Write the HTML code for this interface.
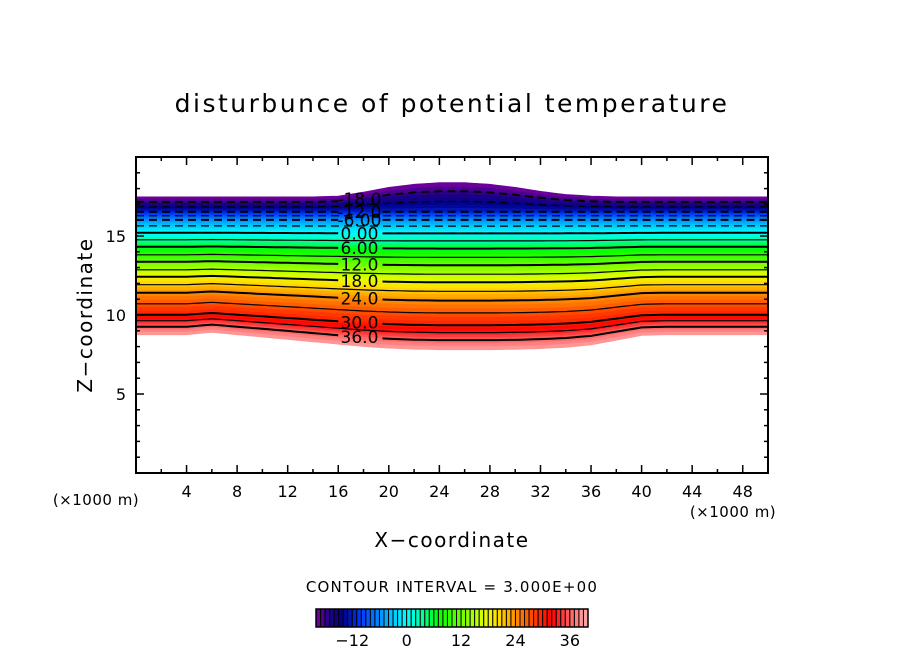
<!DOCTYPE html>
<html><head><meta charset="utf-8">
<style>
html,body{margin:0;padding:0;background:#fff;}
svg text{font-family:"DejaVu Sans","Liberation Sans",sans-serif;fill:#000;}
</style></head>
<body>
<svg id="chart" width="904" height="654" viewBox="0 0 904 654" xmlns="http://www.w3.org/2000/svg">
<g id="bands"></g>
<g id="lines"></g>
<g id="clabels"></g>
<rect x="136" y="157" width="632" height="316" fill="none" stroke="#000" stroke-width="2"/>
<g id="ticks"></g>
<text x="452" y="112" font-size="25" text-anchor="middle" letter-spacing="2.5">disturbunce of potential temperature</text>
<text x="452" y="547" font-size="20" text-anchor="middle" letter-spacing="1.5">X−coordinate</text>
<text transform="translate(92,315) rotate(-90)" font-size="20" text-anchor="middle" letter-spacing="1.5">Z−coordinate</text>
<text x="96" y="505" font-size="15" text-anchor="middle" letter-spacing="0.5">(×1000 m)</text>
<text x="733" y="517" font-size="15" text-anchor="middle" letter-spacing="0.5">(×1000 m)</text>
<text x="452" y="592" font-size="15" text-anchor="middle" letter-spacing="1.2">CONTOUR INTERVAL = 3.000E+00</text>
<g id="cbar"></g>
</svg>
<script>
const levels = [-20,-18,-15,-12,-9,-6,-3,0,3,6,9,12,15,18,21,24,27,30,33,36,39];
const baseZ  = [17.48,17.16,16.85,16.53,16.28,16.02,15.64,15.20,14.76,14.32,13.81,13.37,12.86,12.42,11.92,11.41,10.71,10.02,9.64,9.26,8.75];
const xs     = [0,2,4,6,8,10,12,14,16,18,20,22,24,26,28,30,32,34,36,38,40,42,44,46,48,50];
const lowerDip = [0,0,0,-0.15,0,0.15,0.3,0.45,0.6,0.75,0.85,0.92,0.95,0.95,0.95,0.93,0.88,0.8,0.65,0.35,0.05,0,0,0,0,0];
const topBump  = [0,0,0,0,0,0,0,0,0.05,0.3,0.6,0.8,0.9,0.9,0.8,0.6,0.35,0.15,0.05,0,0,0,0,0,0,0];
const lineLevels = [-18,-15,-12,-9,-6,-3,0,3,6,9,12,15,18,21,24,27,30,33,36];
const labelLevels = [-18,-12,-6,0,6,12,18,24,30,36];
const labelTexts = ["-18.0","-12.0","-6.00","0.00","6.00","12.0","18.0","24.0","30.0","36.0"];
const xTicks = [4,8,12,16,20,24,28,32,36,40,44,48];
const yTicks = [5,10,15];
const cbarTicks = [-12,0,12,24,36];

const NS="http://www.w3.org/2000/svg";
const X0=136,X1=768,Y0=473,Y1=157;
const sx=x=>X0+(x/50)*(X1-X0);
const sy=z=>Y0-(z/20)*(Y0-Y1);
function interp(arrX,arrY,v){
  if(v<=arrX[0])return arrY[0];
  for(let i=1;i<arrX.length;i++){if(v<=arrX[i]){const t=(v-arrX[i-1])/(arrX[i]-arrX[i-1]);return arrY[i-1]+t*(arrY[i]-arrY[i-1]);}}
  return arrY[arrY.length-1];
}
const cl=(v)=>Math.max(0,Math.min(1,v));
function zAt(l,x){
  const b=interp(levels,baseZ,l);
  const wL=Math.pow(cl((l+6)/45),1.6), wT=cl((-12-l)/8);
  return b-interp(xs,lowerDip,x)*wL+interp(xs,topBump,x)*wT;
}
const cStops=[[-20,[122,0,160]],[-17,[30,0,130]],[-14,[0,0,140]],[-10,[0,60,255]],[-5,[0,160,255]],[0,[0,255,255]],[3,[0,255,176]],[7,[0,255,0]],[13,[128,255,0]],[17,[224,255,0]],[20,[255,224,0]],[24,[255,144,0]],[28,[255,64,0]],[32,[255,0,0]],[36,[255,96,96]],[39,[255,160,160]]];
function color(v){
  for(let i=1;i<cStops.length;i++){if(v<=cStops[i][0]){const a=cStops[i-1],b=cStops[i];const t=cl((v-a[0])/(b[0]-a[0]));const c=a[1].map((q,k)=>Math.round(q+t*(b[1][k]-q)));return `rgb(${c})`;}}
  return "rgb(255,160,160)";
}
function mk(tag,attrs,parent){const e=document.createElementNS(NS,tag);for(const k in attrs)e.setAttribute(k,attrs[k]);parent.appendChild(e);return e;}
const samples=[];for(let x=0;x<=50.001;x+=0.5)samples.push(x);
const gB=document.getElementById('bands');
for(let v=-20;v<39;v++){
  const up=samples.map(x=>sx(x).toFixed(1)+","+sy(zAt(v,x)).toFixed(1));
  const lo=samples.slice().reverse().map(x=>sx(x).toFixed(1)+","+sy(zAt(v+1,x)).toFixed(1));
  const p=mk('polygon',{points:up.concat(lo).join(" "),fill:color(v+0.5),stroke:color(v+0.5),'stroke-width':0.6},gB);
  
  
}
const gL=document.getElementById('lines');
const labX=17.6;
lineLevels.forEach(l=>{
  const labeled=labelLevels.includes(l);
  let segs=[[]];
  samples.forEach(x=>{
    if(labeled && x>labX-1.6 && x<labX+1.8){if(segs[segs.length-1].length)segs.push([]);return;}
    segs[segs.length-1].push(sx(x).toFixed(1)+","+sy(zAt(l,x)).toFixed(1));
  });
  segs.forEach(s=>{if(s.length<2)return;
    const pl=mk('polyline',{points:s.join(" "),fill:"none",stroke:"#000",'stroke-width':labeled?2:1.2},gL);
    if(l<0)pl.setAttribute('stroke-dasharray','8,5');
    
    
  });
});
const gC=document.getElementById('clabels');
labelLevels.forEach((l,i)=>{
  const t=mk('text',{x:sx(labX)+1,y:sy(zAt(l,labX))+6,'font-size':17,'text-anchor':'middle'},gC);
  t.textContent=labelTexts[i];
  
  
});
const gT=document.getElementById('ticks');
for(let x=2;x<50;x+=2){const maj=x%4===0;const L=maj?8:4;
  mk('line',{x1:sx(x),x2:sx(x),y1:Y0,y2:Y0-L,stroke:"#000",'stroke-width':1.5},gT);
  mk('line',{x1:sx(x),x2:sx(x),y1:Y1,y2:Y1+L,stroke:"#000",'stroke-width':1.5},gT);}
for(let z=1;z<20;z++){const L=z%5===0?8:4;
  mk('line',{x1:X0,x2:X0+L,y1:sy(z),y2:sy(z),stroke:"#000",'stroke-width':1.5},gT);
  mk('line',{x1:X1,x2:X1-L,y1:sy(z),y2:sy(z),stroke:"#000",'stroke-width':1.5},gT);}
xTicks.forEach(x=>{const t=mk('text',{x:sx(x),y:497,'font-size':16,'text-anchor':'middle'},gT);t.textContent=x;
  });
yTicks.forEach(z=>{const t=mk('text',{x:126,y:sy(z)+6,'font-size':16,'text-anchor':'end'},gT);t.textContent=z;
  });
const gCb=document.getElementById('cbar');
const cx=v=>316+(v+20)/60*272;
for(let v=-20;v<40;v++){
  const r=mk('rect',{x:cx(v),y:609,width:272/60,height:18,fill:color(v+0.5),stroke:"#000",'stroke-width':1},gCb);
  
  
}
mk('rect',{x:316,y:609,width:272,height:18,fill:"none",stroke:"#000",'stroke-width':1.5},gCb);
cbarTicks.forEach(v=>{const t=mk('text',{x:cx(v),y:646,'font-size':16,'text-anchor':'middle'},gCb);t.textContent=v<0?"−"+(-v):v;
  });
</script>
</body></html>
